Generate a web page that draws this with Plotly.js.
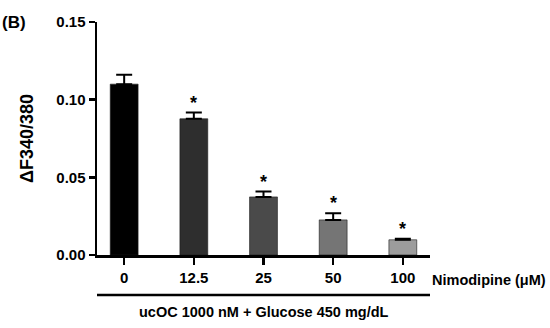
<!DOCTYPE html>
<html><head><meta charset="utf-8">
<script src="https://cdn.plot.ly/plotly-3.0.1.min.js"></script>
<style>html,body{margin:0;padding:0;background:#fff}#chart{width:550px;height:328px}</style>
</head><body><div id="chart"></div>
<script>
var categories = ["0", "12.5", "25", "50", "100"];
var values = [0.110, 0.0877, 0.0374, 0.0226, 0.0098];
var errors = [0.006, 0.004, 0.0034, 0.0042, 0.0006];
var significant = [false, true, true, true, true];
var barColors = ["#000000", "#2e2e2e", "#4a4a4a", "#757575", "#9c9c9c"];
var yTicks = [0, 0.05, 0.10, 0.15];
var yTickText = ["0.00", "0.05", "0.10", "0.15"];

var F = "Liberation Sans, Arial, sans-serif";

var trace = {
  type: "bar",
  x: categories,
  y: values,
  width: 0.4,
  marker: {color: barColors, line: {color: "#1a1a1a", width: 0.6}},
  error_y: {type: "data", symmetric: false, array: errors, arrayminus: errors.map(function(){return 0;}), color: "#000", thickness: 2, width: 8},
  hoverinfo: "none"
};

var annotations = [];
categories.forEach(function(c, i){
  if (significant[i]) {
    annotations.push({x: i, y: values[i] + errors[i], xref: "x", yref: "y", text: "<b>*</b>", showarrow: false,
      yanchor: "bottom", yshift: -2, font: {family: F, size: 18, color: "#000"}});
  }
});
annotations.push({xref: "paper", yref: "paper", x: 1.0, y: -0.107, xanchor: "left", yanchor: "middle", xshift: 0,
  text: "<b>Nimodipine (μM)</b>", showarrow: false, font: {family: F, size: 14.5, color: "#000"}});
annotations.push({xref: "paper", yref: "paper", x: 0.5, y: -0.245, xanchor: "center", yanchor: "middle",
  text: "<b>ucOC 1000 nM + Glucose 450 mg/dL</b>", showarrow: false, font: {family: F, size: 14.5, color: "#000"}});
annotations.push({xref: "paper", yref: "paper", x: -0.29, y: 1.0, xanchor: "left", yanchor: "middle", xshift: 0,
  text: "<b>(B)</b>", showarrow: false, font: {family: F, size: 17, color: "#000"}});

var layout = {
  width: 550, height: 328,
  margin: {l: 97, r: 120, t: 22, b: 73},
  paper_bgcolor: "#fff", plot_bgcolor: "#fff",
  showlegend: false,
  xaxis: {
    type: "category", range: [-0.39, 4.39],
    showline: true, linecolor: "#000", linewidth: 2.5,
    ticks: "outside", ticklen: 7, tickwidth: 2.5, tickcolor: "#000",
    showgrid: false, zeroline: false,
    tickfont: {family: F, size: 15, color: "#000", weight: "bold"}
  },
  yaxis: {
    range: [0, 0.15],
    tickvals: yTicks, ticktext: yTickText,
    showline: true, linecolor: "#000", linewidth: 2.5,
    ticks: "outside", ticklen: 6, tickwidth: 2.5, tickcolor: "#000",
    showgrid: false, zeroline: false,
    tickfont: {family: F, size: 15, color: "#000", weight: "bold"},
    title: {text: "<b>ΔF340/380</b>", font: {family: F, size: 18, color: "#000"}, standoff: 18}
  },
  shapes: [{type: "line", xref: "paper", yref: "paper", x0: 0, x1: 1, y0: -0.172, y1: -0.172, line: {color: "#000", width: 2.5}}],
  annotations: annotations
};

Plotly.newPlot("chart", [trace], layout, {displayModeBar: false, staticPlot: true});
</script>
</body></html>
